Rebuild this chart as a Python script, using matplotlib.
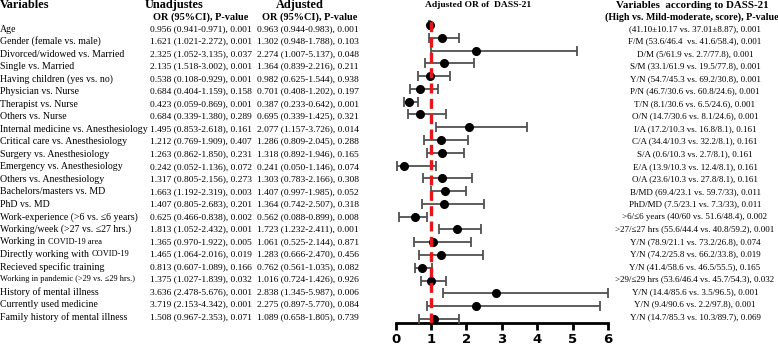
import numpy as np
import matplotlib
matplotlib.use("Agg")
import matplotlib.pyplot as plt

W, H = 778, 348

variables = [
    "Age", "Gender (female vs. male)", "Divorced/widowed vs. Married", "Single vs. Married",
    "Having children (yes vs. no)", "Physician vs. Nurse", "Therapist vs. Nurse", "Others vs. Nurse",
    "Internal medicine vs. Anesthesiology", "Critical care vs. Anesthesiology",
    "Surgery vs. Anesthesiology", "Emergency vs. Anesthesiology", "Others vs. Anesthesiology",
    "Bachelors/masters vs. MD", "PhD vs. MD", "Work-experience (>6 vs. \u22646 years)",
    "Working/week (>27 vs. \u226427 hrs.)", "Working in |COVID-19 area",
    "Directly working with |COVID-19", "Recieved specific training",
    "Working in pandemic (>29 vs. \u226429 hrs.)", "History of mental illness",
    "Currently used medicine", "Family history of mental illness",
]

or_unadj = [0.956, 1.621, 2.325, 2.135, 0.538, 0.684, 0.423, 0.684, 1.495, 1.212, 1.263, 0.242,
            1.317, 1.663, 1.407, 0.625, 1.813, 1.365, 1.465, 0.813, 1.375, 3.636, 3.719, 1.508]
lo_unadj = [0.941, 1.021, 1.052, 1.518, 0.108, 0.404, 0.059, 0.339, 0.853, 0.769, 0.862, 0.052,
            0.805, 1.192, 0.805, 0.466, 1.052, 0.970, 1.064, 0.607, 1.027, 2.478, 2.153, 0.967]
hi_unadj = [0.971, 2.272, 3.135, 3.002, 0.929, 1.159, 0.869, 1.380, 2.618, 1.909, 1.850, 1.136,
            2.156, 2.319, 2.683, 0.838, 2.432, 1.922, 2.016, 1.089, 1.839, 5.676, 4.342, 2.353]
p_unadj = [0.001, 0.001, 0.037, 0.001, 0.001, 0.158, 0.001, 0.289, 0.161, 0.407, 0.231, 0.072,
           0.273, 0.003, 0.201, 0.002, 0.001, 0.005, 0.019, 0.166, 0.032, 0.001, 0.001, 0.071]

or_adj = [0.963, 1.302, 2.274, 1.364, 0.982, 0.701, 0.387, 0.695, 2.077, 1.286, 1.318, 0.241,
          1.303, 1.407, 1.364, 0.562, 1.723, 1.061, 1.283, 0.762, 1.016, 2.838, 2.275, 1.089]
lo_adj = [0.944, 0.948, 1.007, 0.839, 0.625, 0.408, 0.233, 0.339, 1.157, 0.809, 0.892, 0.050,
          0.783, 0.997, 0.742, 0.088, 1.232, 0.525, 0.666, 0.561, 0.724, 1.345, 0.897, 0.658]
hi_adj = [0.983, 1.788, 5.137, 2.216, 1.544, 1.202, 0.642, 1.425, 3.726, 2.045, 1.946, 1.146,
          2.166, 1.985, 2.507, 0.899, 2.411, 2.144, 2.470, 1.035, 1.426, 5.987, 5.770, 1.805]
p_adj = [0.001, 0.103, 0.048, 0.211, 0.938, 0.197, 0.001, 0.321, 0.014, 0.288, 0.165, 0.074,
         0.308, 0.052, 0.318, 0.008, 0.001, 0.871, 0.456, 0.082, 0.926, 0.006, 0.084, 0.739]

dass = [
    "(41.10\u00b110.17 vs. 37.01\u00b18.87), 0.001", "F/M (53.6/46.4  vs. 41.6/58.4), 0.001",
    "D/M (5/61.9 vs. 2.7/77.8), 0.001", "S/M (33.1/61.9 vs. 19.5/77.8), 0.001",
    "Y/N (54.7/45.3 vs. 69.2/30.8), 0.001", "P/N (46.7/30.6 vs. 60.8/24.6), 0.001",
    "T/N (8.1/30.6 vs. 6.5/24.6), 0.001", "O/N (14.7/30.6 vs. 8.1/24.6), 0.001",
    "I/A (17.2/10.3 vs. 16.8/8.1), 0.161", "C/A (34.4/10.3 vs. 32.2/8.1), 0.161",
    "S/A (0.6/10.3 vs. 2.7/8.1), 0.161", "E/A (13.9/10.3 vs. 12.4/8.1), 0.161",
    "O/A (23.6/10.3 vs. 27.8/8.1), 0.161", "B/MD (69.4/23.1 vs. 59.7/33), 0.011",
    "PhD/MD (7.5/23.1 vs. 7.3/33), 0.011", ">6/\u22646 years (40/60 vs. 51.6/48.4), 0.002",
    ">27/\u226427 hrs (55.6/44.4 vs. 40.8/59.2), 0.001", "Y/N (78.9/21.1 vs. 73.2/26.8), 0.074",
    "Y/N (74.2/25.8 vs. 66.2/33.8), 0.019", "Y/N (41.4/58.6 vs. 46.5/55.5), 0.165",
    ">29/\u226429 hrs (53.6/46.4 vs. 45.7/54.3), 0.032", "Y/N (14.4/85.6 vs. 3.5/96.5), 0.001",
    "Y/N (9.4/90.6 vs. 2.2/97.8), 0.001", "Y/N (14.7/85.3 vs. 10.3/89.7), 0.069",
]

x_ticks = [0, 1, 2, 3, 4, 5, 6]

plt.rcParams['font.family'] = ['Liberation Serif', 'DejaVu Serif']

fig = plt.figure(figsize=(W / 100, H / 100), dpi=100)

def fx(px):
    return px / W

def fy(py):
    return 1 - py / H

n = len(variables)
rows = np.arange(n)

# forest plot axes (pixel box of the reference)
ax = fig.add_axes([fx(395.5), fy(323), fx(608) - fx(395.5), (323 - 18) / H])
err = [np.array(or_adj) - np.array(lo_adj), np.array(hi_adj) - np.array(or_adj)]
ax.errorbar(or_adj, rows, xerr=err, fmt='o', color='black', ecolor='#505050',
            elinewidth=1.3, capsize=3.5, capthick=1.3, markersize=5.5, clip_on=False, zorder=3)
ax.axvline(1, color='#e8151b', lw=2.4, ls=(0, (3, 1.6)), zorder=4)
ax.set_xlim(0, 6)
ax.set_ylim((323 - 25) / 12.78, (18 - 25) / 12.78)
ax.set_xticks(x_ticks)
ax.set_xticklabels([str(t) for t in x_ticks], family='DejaVu Sans', fontweight='bold', fontsize=9.5)
ax.set_yticks([])
for s in ['top', 'right', 'left']:
    ax.spines[s].set_visible(False)
ax.spines['bottom'].set_linewidth(2)
ax.tick_params(axis='x', length=5, width=2, pad=2.5)
ax.patch.set_alpha(0)

renderer = fig.canvas.get_renderer()

def draw_mixed(x, y, text, size, small):
    # text before '|' in normal size, after it smaller
    parts = text.split('|')
    t = fig.text(x, y, parts[0], fontsize=size, va='center', ha='left')
    if len(parts) > 1:
        bb = t.get_window_extent(renderer)
        fig.text(bb.x1 / W, y, parts[1], fontsize=small, va='center', ha='left')

for i in range(n):
    yy = fy(29 + 12.52 * i)
    name = variables[i]
    size = 6.0 if name.startswith("Working in pandemic") else 7.1
    draw_mixed(0.0, yy, name, size, 6.0)
    fig.text(fx(150), yy, f"{or_unadj[i]:.3f} ({lo_unadj[i]:.3f}-{hi_unadj[i]:.3f}), {p_unadj[i]:.3f}",
             fontsize=6.8, va='center', ha='left')
    fig.text(fx(308), yy, f"{or_adj[i]:.3f} ({lo_adj[i]:.3f}-{hi_adj[i]:.3f}), {p_adj[i]:.3f}",
             fontsize=6.8, va='center', ha='center')
    fig.text(fx(695), yy, dass[i], fontsize=6.5, va='center', ha='center')

# headers
fig.text(0.0, fy(5), "Variables", fontsize=8.8, fontweight='bold', va='center', ha='left')
fig.text(fx(174), fy(5), "Unadjustes", fontsize=8.8, fontweight='bold', va='center', ha='center')
fig.text(fx(201), fy(17), "OR (95%CI), P-value", fontsize=7.4, fontweight='bold', va='center', ha='center')
fig.text(fx(300), fy(5), "Adjusted", fontsize=8.8, fontweight='bold', va='center', ha='center')
fig.text(fx(310), fy(17), "OR (95%CI), P-value", fontsize=7.4, fontweight='bold', va='center', ha='center')
fig.text(fx(478), fy(5), "Adjusted OR of  DASS-21", fontsize=6.8, fontweight='bold', va='center', ha='center')
fig.text(fx(692), fy(5), "Variables  according to DASS-21", fontsize=7.8, fontweight='bold', va='center', ha='center')
fig.text(fx(692), fy(17), "(High vs. Mild-moderate, score), P-value", fontsize=7.2, fontweight='bold',
         va='center', ha='center')

fig.savefig("out.png", dpi=100)
